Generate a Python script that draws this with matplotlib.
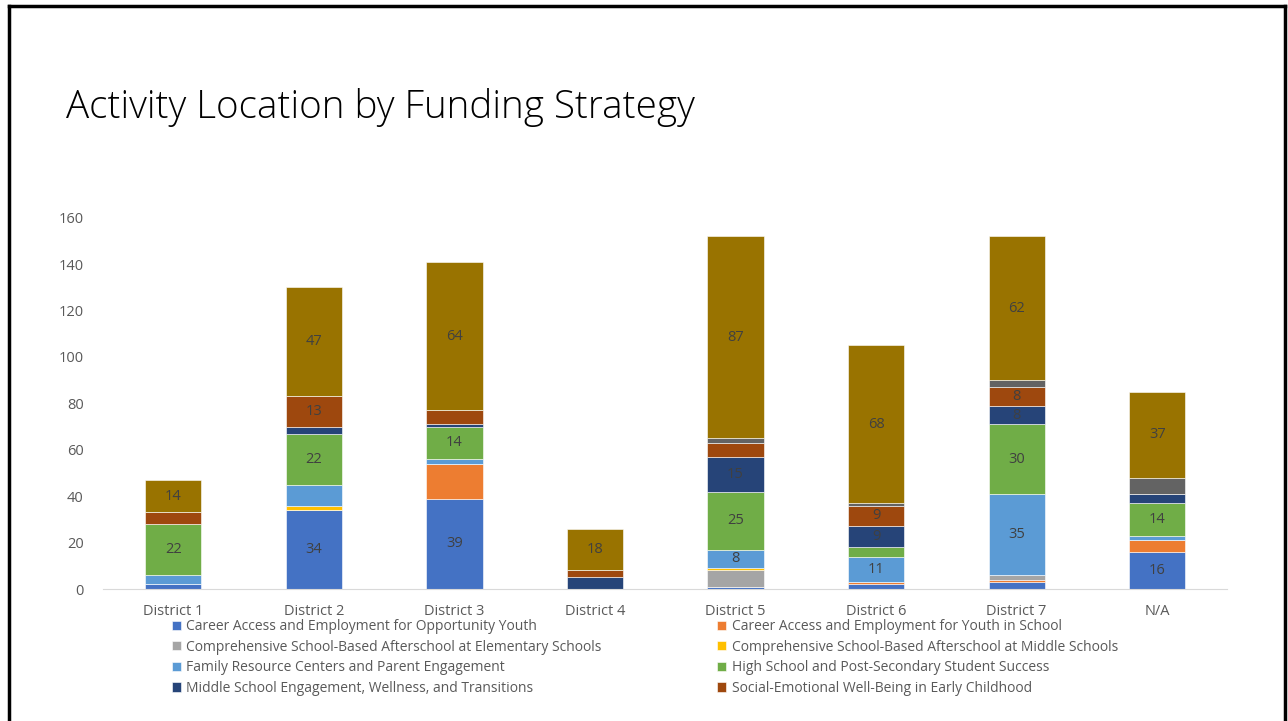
import numpy as np
import matplotlib.pyplot as plt
from matplotlib.lines import Line2D

plt.rcParams['font.family'] = ['Open Sans', 'DejaVu Sans']

# * Data

districts = ["District 1", "District 2", "District 3", "District 4",
             "District 5", "District 6", "District 7", "N/A"]

strategies = [
    "Career Access and Employment for Opportunity Youth",
    "Career Access and Employment for Youth in School",
    "Comprehensive School-Based Afterschool at Elementary Schools",
    "Comprehensive School-Based Afterschool at Middle Schools",
    "Family Resource Centers and Parent Engagement",
    "High School and Post-Secondary Student Success",
    "Middle School Engagement, Wellness, and Transitions",
    "Social-Emotional Well-Being in Early Childhood",
    "_Other strategy A",   # not shown in the legend
    "_Other strategy B",   # not shown in the legend
]

opportunity_youth = [2, 34, 39, 0, 1, 2, 3, 16]
youth_in_school   = [0, 0, 15, 0, 0, 1, 1, 5]
afterschool_elem  = [0, 0, 0, 0, 7, 0, 2, 0]
afterschool_mid   = [0, 2, 0, 0, 1, 0, 0, 0]
family_resource   = [4, 9, 2, 0, 8, 11, 35, 2]
high_school       = [22, 22, 14, 0, 25, 4, 30, 14]
middle_school     = [0, 3, 1, 5, 15, 9, 8, 4]
early_childhood   = [5, 13, 6, 3, 6, 9, 8, 0]
other_a           = [0, 0, 0, 0, 2, 1, 3, 7]
other_b           = [14, 47, 64, 18, 87, 68, 62, 37]

series = [opportunity_youth, youth_in_school, afterschool_elem, afterschool_mid,
          family_resource, high_school, middle_school, early_childhood,
          other_a, other_b]

colors = ["#4472C4", "#ED7D31", "#A5A5A5", "#FFC000", "#5B9BD5",
          "#70AD47", "#264478", "#9E480E", "#636363", "#997300"]

# Data labels that were removed in the original (series index, district index).
hidden_labels = {(4, 1), (1, 2)}

# * Plot

fig = plt.figure(figsize=(12.88, 7.21), dpi=100)
ax = fig.add_axes([0.08, 0.183, 0.873, 0.515])

x = np.arange(len(districts))
bottom = np.zeros(len(districts))
for si, (vals, name, col) in enumerate(zip(series, strategies, colors)):
    vals = np.array(vals, dtype=float)
    ax.bar(x, vals, 0.4, bottom=bottom, color=col, label=name,
           edgecolor="white", linewidth=0.4)
    for di, v in enumerate(vals):
        if v >= 8 and (si, di) not in hidden_labels:
            ax.text(x[di], bottom[di] + v / 2, "{:d}".format(int(v)),
                    ha="center", va="center", fontsize=10.5, color="#404040")
    bottom += vals

ax.set_xlim(-0.5, len(districts) - 0.5)
ax.set_ylim(0, 160)
ax.set_yticks(range(0, 161, 20))
ax.set_xticks(x)
ax.set_xticklabels(districts)
ax.tick_params(length=0, labelsize=10.5, labelcolor="#595959")
ax.tick_params(axis="y", pad=14)
ax.tick_params(axis="x", pad=11)
for s in ["top", "right", "left"]:
    ax.spines[s].set_visible(False)
ax.spines["bottom"].set_color("#D9D9D9")

fig.text(0.051, 0.851, "Activity Location by Funding Strategy",
         fontsize=27.8, fontweight="light", color="black", va="center")

# Legend filled row by row (matplotlib fills column by column).
handles, labels = ax.get_legend_handles_labels()
order = [0, 2, 4, 6, 1, 3, 5, 7]
leg = fig.legend([handles[i] for i in order], [labels[i] for i in order],
                 ncol=2, loc="upper left",
                 bbox_to_anchor=(0.129, 0.149), frameon=False,
                 fontsize=10, handlelength=0.65, handleheight=0.65,
                 handletextpad=0.4, columnspacing=8.3, labelspacing=0.4,
                 borderaxespad=0)
for t in leg.get_texts():
    t.set_color("#595959")

# Slide frame
fig.add_artist(Line2D([0.007, 0.007], [0, 0.991], color="black", lw=2.5))
fig.add_artist(Line2D([0.007, 0.998], [0.991, 0.991], color="black", lw=2.5))
fig.add_artist(Line2D([0.998, 0.998], [0, 0.991], color="black", lw=2.5))

plt.savefig("out.png", dpi=100)
